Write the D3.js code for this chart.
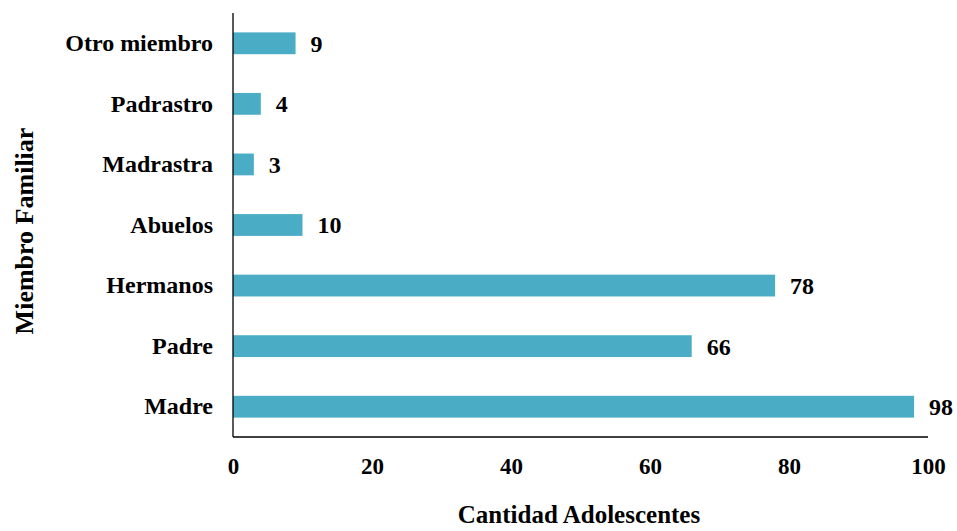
<!DOCTYPE html>
<html>
<head>
<meta charset="utf-8">
<script src="https://cdn.jsdelivr.net/npm/d3@7"></script>
<style>
  html, body { margin: 0; padding: 0; background: #fff; }
  svg { display: block; }
  text { font-family: "Liberation Serif", "Times New Roman", serif; font-weight: bold; fill: #000; }
</style>
</head>
<body>
<svg id="chart" width="957" height="531"></svg>
<script>
// Family members reported, top to bottom
const categories = ["Otro miembro", "Padrastro", "Madrastra", "Abuelos", "Hermanos", "Padre", "Madre"];
const values = [9, 4, 3, 10, 78, 66, 98];
const xTicks = [0, 20, 40, 60, 80, 100];
const xTitle = "Cantidad Adolescentes";
const yTitle = "Miembro Familiar";

const svg = d3.select("#chart");
const margin = { left: 233, right: 29, top: 13, bottom: 94 };
const W = 957, H = 531;
const font = "'Liberation Serif', 'Times New Roman', serif";

const x = d3.scaleLinear().domain([0, 100]).range([margin.left, W - margin.right]);
const y = d3.scaleBand().domain(categories).range([margin.top, H - margin.bottom]).paddingInner(0.64).paddingOuter(0.32);

// bars
svg.append("g").selectAll("rect").data(categories).join("rect")
  .attr("x", x(0))
  .attr("y", d => y(d))
  .attr("width", (d, i) => x(values[i]) - x(0))
  .attr("height", y.bandwidth())
  .attr("fill", "#4BACC6");

// value labels
svg.append("g").selectAll("text").data(categories).join("text")
  .attr("x", (d, i) => x(values[i]) + 15)
  .attr("y", d => y(d) + y.bandwidth() / 2)
  .attr("dy", "0.35em")
  .attr("font-size", 24)
  .text((d, i) => values[i]);

// y axis (labels only plus a plain line)
const yAxis = svg.append("g").attr("transform", `translate(${margin.left},0)`)
  .call(d3.axisLeft(y).tickSize(0).tickPadding(20));
yAxis.select(".domain").remove();
yAxis.selectAll("text").attr("font-size", 24);

// x axis (labels only plus a plain line)
const xAxis = svg.append("g").attr("transform", `translate(0,${H - margin.bottom})`)
  .call(d3.axisBottom(x).tickValues(xTicks).tickSize(0).tickPadding(21));
xAxis.select(".domain").remove();
xAxis.selectAll("text").attr("font-size", 23);
svg.selectAll(".tick text").style("font-family", font).style("font-weight", "bold");

// axis lines
svg.append("line")
  .attr("x1", x(0)).attr("x2", x(0))
  .attr("y1", margin.top).attr("y2", H - margin.bottom)
  .attr("stroke", "#000").attr("stroke-width", 1.3);
svg.append("line")
  .attr("x1", x(0)).attr("x2", x(100))
  .attr("y1", H - margin.bottom).attr("y2", H - margin.bottom)
  .attr("stroke", "#000").attr("stroke-width", 1.3);

// axis titles
svg.append("text")
  .attr("x", 579)
  .attr("y", 523)
  .attr("text-anchor", "middle")
  .attr("font-size", 25)
  .text(xTitle);

svg.append("text")
  .attr("transform", "translate(33, 231) rotate(-90)")
  .attr("text-anchor", "middle")
  .attr("font-size", 26)
  .text(yTitle);
</script>
</body>
</html>
